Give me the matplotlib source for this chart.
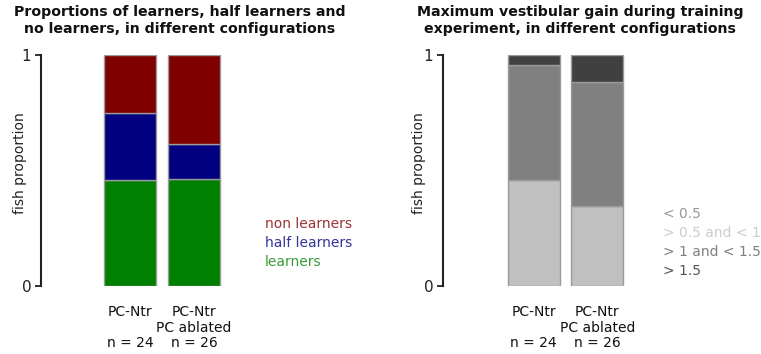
import matplotlib
matplotlib.use("Agg")
import matplotlib.pyplot as plt
import numpy as np

W, H = 761, 354

groups = ["PC-Ntr\n\nn = 24", "PC-Ntr\nPC ablated\nn = 26"]

# left chart: learner categories (bottom to top)
learn_names = ["learners", "half learners", "non learners"]
learners = [11 / 24, 12 / 26]
half_learners = [7 / 24, 4 / 26]
non_learners = [6 / 24, 10 / 26]
learn_colors = ["#008000", "#000080", "#800000"]
learn_text_colors = ["#3a9a3a", "#33339a", "#9a3333"]

# right chart: max vestibular gain classes (bottom to top)
gain_low = [11 / 24, 9 / 26]
gain_mid = [12 / 24, 14 / 26]
gain_high = [1 / 24, 3 / 26]
gain_colors = ["#c0c0c0", "#808080", "#404040"]
gain_labels = ["< 0.5", "> 0.5 and < 1", "> 1 and < 1.5", "> 1.5"]
gain_text_colors = ["#999999", "#cccccc", "#808080", "#555555"]

fig = plt.figure(figsize=(W / 100, H / 100), dpi=100)


def px_axes(x0, x1, y_top, y_bot):
    return fig.add_axes([x0 / W, 1 - y_bot / H, (x1 - x0) / W, (y_bot - y_top) / H])


def style(ax, xlim, label_x):
    ax.set_xlim(*xlim)
    ax.set_ylim(0, 1)
    for s in ["top", "right", "bottom"]:
        ax.spines[s].set_visible(False)
    ax.spines["left"].set_color("#222222")
    ax.spines["left"].set_linewidth(1.5)
    ax.set_yticks([0, 1])
    ax.set_yticklabels(["0", "1"], fontsize=11, color="#222222")
    ax.tick_params(axis="y", length=4, width=1.3, color="#222222", pad=3)
    ax.set_xticks(range(len(groups)))
    ax.set_xticklabels(groups, fontsize=10, color="#111111", linespacing=1.12)
    ax.tick_params(axis="x", length=0, pad=14)
    ax.set_ylabel("fish proportion", fontsize=10, color="#222222")
    ax.yaxis.set_label_coords(label_x, 0.53)


def stack(ax, series, colors, width):
    x = np.arange(len(groups))
    bottom = np.zeros(len(groups))
    for vals, c in zip(series, colors):
        ax.bar(x, vals, width, bottom=bottom, color=c, edgecolor="#9a9a9a", linewidth=1)
        bottom += np.array(vals)


ax1 = px_axes(41, 250, 55, 286)
stack(ax1, [learners, half_learners, non_learners], learn_colors, 0.81)
style(ax1, (-1.39, 1.875), -0.067)

ax2 = px_axes(443, 650, 55, 286)
stack(ax2, [gain_low, gain_mid, gain_high], gain_colors, 0.82)
style(ax2, (-1.43, 1.83), -0.082)

fig.text(180 / W, 1 - 5 / H, "Proportions of learners, half learners and\nno learners, in different configurations",
         ha="center", va="top", fontsize=10.2, fontweight="bold", color="#111111", linespacing=1.25)
fig.text(580 / W, 1 - 5 / H, "Maximum vestibular gain during training\nexperiment, in different configurations",
         ha="center", va="top", fontsize=10.2, fontweight="bold", color="#111111", linespacing=1.25)

for i, name in enumerate(reversed(learn_names)):
    fig.text(265 / W, 1 - (224 + 19 * i) / H, name, ha="left", va="center",
             fontsize=10, color=list(reversed(learn_text_colors))[i])

for i, name in enumerate(gain_labels):
    fig.text(663 / W, 1 - (214 + 19 * i) / H, name, ha="left", va="center",
             fontsize=10, color=gain_text_colors[i])

fig.savefig("out.png", dpi=100)
